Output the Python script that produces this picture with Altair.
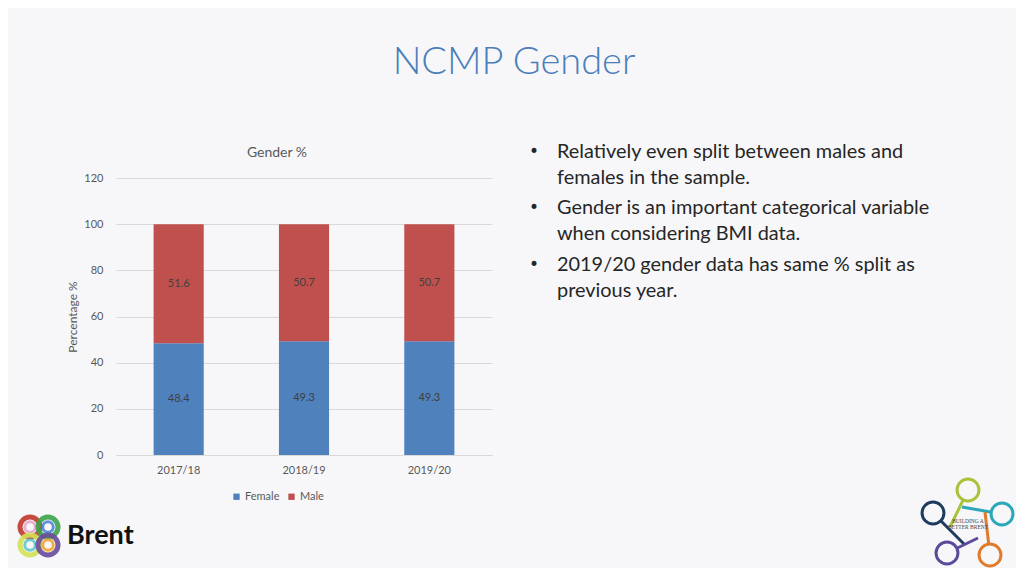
import altair as alt
import pandas as pd

years = ["2017/18", "2018/19", "2019/20"]
female = [48.4, 49.3, 49.3]
male = [51.6, 50.7, 50.7]
genders = ["Female", "Male"]
colors = ["#4F81BD", "#C0504D"]

page_title = "NCMP Gender"
chart_title = "Gender %"
y_title = "Percentage %"
y_ticks = [0, 20, 40, 60, 80, 100, 120]
bullets = [
    ["Relatively even split between males and", "females in the sample."],
    ["Gender is an important categorical variable", "when considering BMI data."],
    ["2019/20 gender data has same % split as", "previous year."],
]

rows = []
for i, yr in enumerate(years):
    base = 0.0
    for g, vals in zip(genders, [female, male]):
        v = vals[i]
        rows.append({"year": yr, "gender": g, "value": v, "order": genders.index(g),
                     "mid": base + v / 2})
        base += v
df = pd.DataFrame(rows)

W, H = 376, 277
FONT = "Lato"
BG = "#f7f7f9"

x_enc = alt.X("year:N", sort=years, title=None,
              scale=alt.Scale(paddingInner=0.6, paddingOuter=0.3),
              axis=alt.Axis(labelAngle=0, labelFontSize=11, labelColor="#595959",
                            labelFont=FONT, ticks=False, domainColor="#d9d9d9",
                            labelPadding=9))

bars = alt.Chart(df).mark_bar().encode(
    x=x_enc,
    y=alt.Y("value:Q", stack="zero",
            scale=alt.Scale(domain=[0, 120], nice=False),
            axis=alt.Axis(values=y_ticks, title=y_title, titleFont=FONT,
                          titleFontSize=12, titleFontWeight="normal",
                          titleColor="#595959", titleX=-37, titleY=H / 2,
                          labelFont=FONT, labelFontSize=11, labelColor="#595959",
                          labelPadding=13, ticks=False, domain=False,
                          gridColor="#d9d9d9")),
    color=alt.Color("gender:N", scale=alt.Scale(domain=genders, range=colors),
                    legend=alt.Legend(title=None, orient="none", direction="horizontal",
                                      legendX=115, legendY=313, symbolType="square",
                                      symbolSize=40, labelFont=FONT, labelFontSize=11,
                                      labelColor="#595959", columnPadding=6,
                                      labelOffset=3, symbolStrokeWidth=0)),
    order=alt.Order("order:Q"),
)

labels = alt.Chart(df).mark_text(font=FONT, fontSize=11, color="#404040").encode(
    x=alt.X("year:N", sort=years),
    y=alt.Y("mid:Q"),
    text=alt.Text("value:Q", format=".1f"),
)

layers = [bars, labels]

# page title (plot origin at page (116,178))
layers.append(alt.Chart().mark_text(font=FONT, fontSize=38, fontWeight=300,
                                     color="#4A7EBB", align="center", baseline="middle")
              .encode(x=alt.value(398), y=alt.value(-115), text=alt.value(page_title)))
layers.append(alt.Chart().mark_text(font=FONT, fontSize=14, color="#595959",
                                     align="center", baseline="middle")
              .encode(x=alt.value(161), y=alt.value(-25), text=alt.value(chart_title)))

# bullets
line_y = [[-26, 0], [30, 56], [87, 113]]
for b, ys in zip(bullets, line_y):
    layers.append(alt.Chart().mark_text(font="DejaVu Sans", fontSize=17, color="#262626",
                                         align="left", baseline="middle")
                  .encode(x=alt.value(413), y=alt.value(ys[0]), text=alt.value("•")))
    for line, yy in zip(b, ys):
        layers.append(alt.Chart().mark_text(font=FONT, fontSize=19.9, color="#262626",
                                             align="left", baseline="middle")
                      .encode(x=alt.value(441), y=alt.value(yy), text=alt.value(line)))

# Brent logo (decorative)
rings = [(-86, 349, "#C0392B", "#E6A0C8"), (-68, 349, "#3FA34D", "#3A7BD5"),
         (-86, 367, "#D4E157", "#4FC3C8"), (-68, 367, "#6A4C9C", "#F39C12")]
for rx, ry, rc, ic in rings:
    layers.append(alt.Chart().mark_point(shape="circle", size=400, filled=False,
                                          strokeWidth=5, color=rc, opacity=0.9)
                  .encode(x=alt.value(rx), y=alt.value(ry)))
    layers.append(alt.Chart().mark_point(shape="circle", size=110, filled=False,
                                          strokeWidth=3, color=ic, opacity=0.8)
                  .encode(x=alt.value(rx), y=alt.value(ry)))
layers.append(alt.Chart().mark_text(font=FONT, fontSize=27, fontWeight="bold",
                                     color="#111111", align="left", baseline="middle")
              .encode(x=alt.value(-49), y=alt.value(358), text=alt.value("Brent")))

# Building a Better Brent logo (decorative): ring centre and stem end
nodes = [(852, 312, 834, 349, "#A8C23A"), (886, 336, 846, 329, "#2AA7B8"),
         (817, 335, 849, 367, "#1F3A5F"), (831, 375, 862, 360, "#5B4A9B"),
         (874, 377, 869, 334, "#E07B2C")]
for nx, ny, sx, sy, nc in nodes:
    layers.append(alt.Chart().mark_rule(color=nc, strokeWidth=3)
                  .encode(x=alt.value(nx), y=alt.value(ny), x2=alt.value(sx),
                          y2=alt.value(sy)))
    layers.append(alt.Chart().mark_point(shape="circle", size=480, filled=True,
                                          fill=BG, stroke=nc, strokeWidth=3,
                                          opacity=1)
                  .encode(x=alt.value(nx), y=alt.value(ny)))
for txt, dy in [("BUILDING A", -3), ("BETTER BRENT", 3)]:
    layers.append(alt.Chart().mark_text(font="Liberation Sans Narrow", fontSize=5.5,
                                         color="#444444", align="center",
                                         baseline="middle")
                  .encode(x=alt.value(852), y=alt.value(346 + dy), text=alt.value(txt)))

chart = alt.layer(*layers).properties(
    width=W, height=H,
    autosize=alt.AutoSizeParams(type="none"),
    padding={"left": 108, "top": 170, "right": 524, "bottom": 113},
    background=BG,
).configure_view(stroke=None)

chart.save("out.html", embed_options={"renderer": "svg", "actions": False})
